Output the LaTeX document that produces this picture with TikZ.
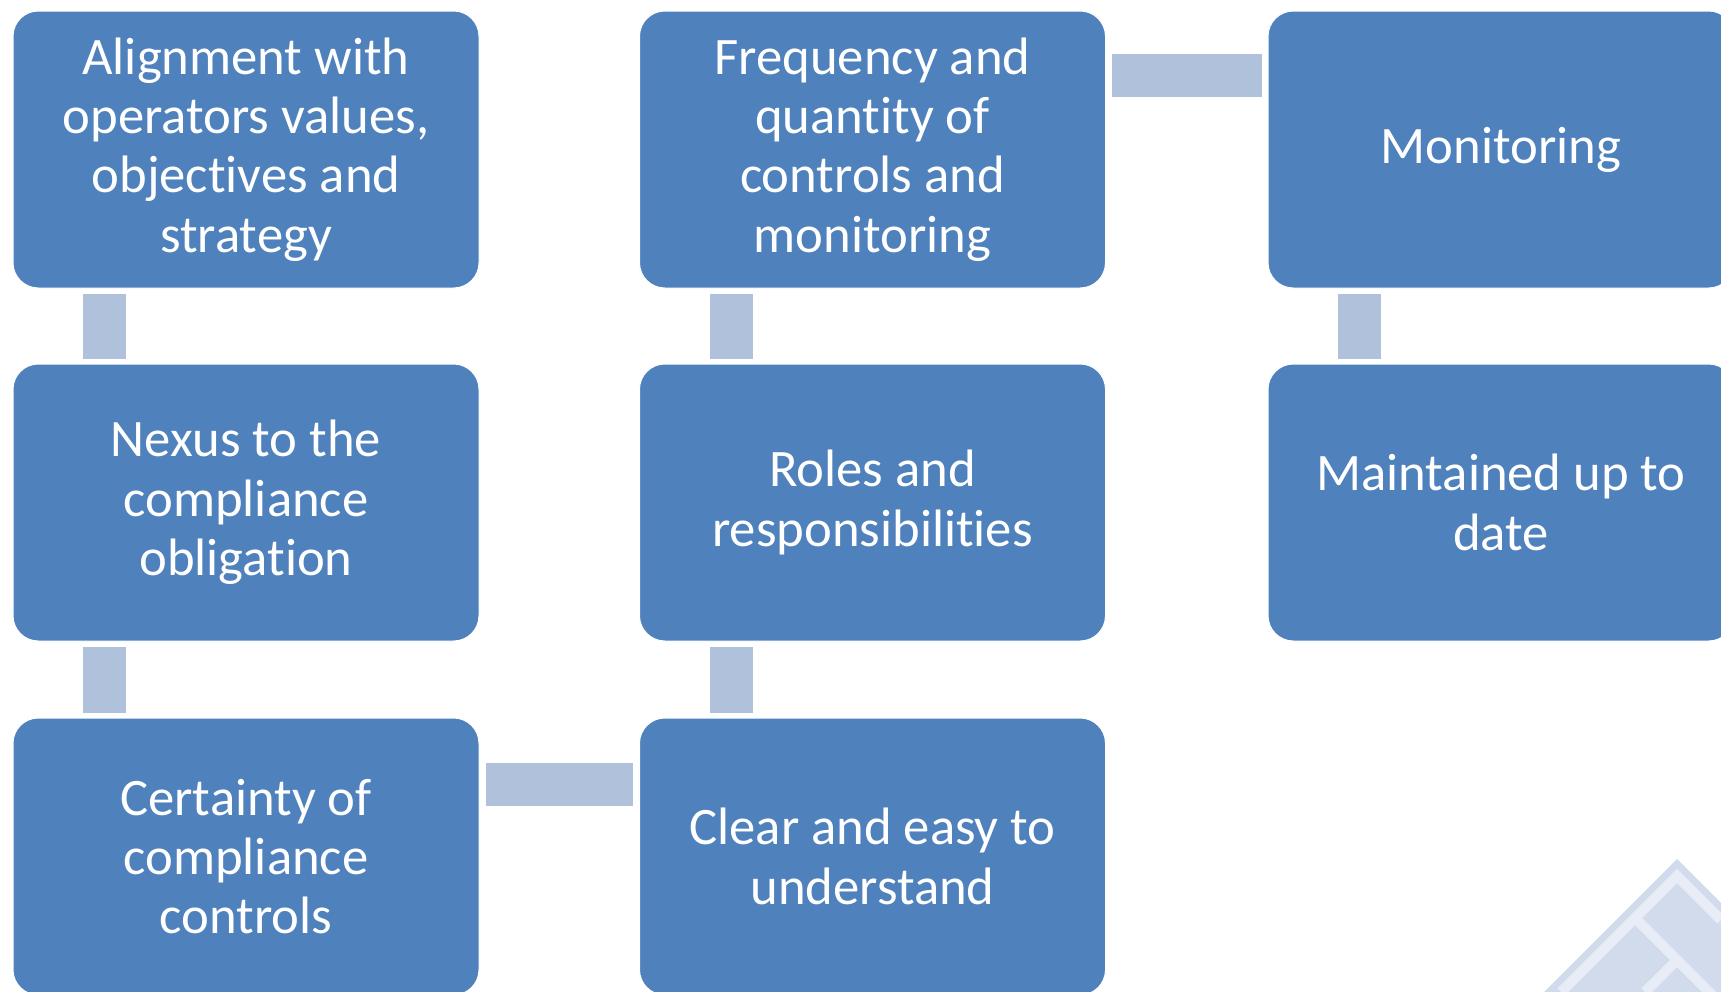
\documentclass[tikz,border=0pt]{standalone}
\usepackage{fontspec}
\setmainfont{Carlito}[Ligatures=NoCommon]
\usetikzlibrary{shapes}

\definecolor{boxblue}{RGB}{79,129,189}
\definecolor{linkblue}{RGB}{176,193,220}
\definecolor{pyrdark}{RGB}{209,219,235}
\definecolor{pyrlight}{RGB}{231,236,246}

\tikzset{
  stepbox/.style={draw=white, line width=0.75pt, fill=boxblue, rounded corners=19pt,
    minimum width=349.5pt, minimum height=207.75pt, inner sep=0pt,
    text=white, align=center, font=\fontsize{39.5}{44.5}\selectfont},
  vlink/.style={draw=linkblue, line width=32.25pt, shorten >=3.75pt, shorten <=3.75pt},
  hlink/.style={draw=linkblue, line width=32.25pt, shorten >=4.5pt, shorten <=4.5pt}
}

\begin{document}
\begin{tikzpicture}[x=0.75pt,y=0.75pt,yscale=-1,xscale=1]
\clip (0,0) rectangle (1721,992);

%Shape: Pyramid corner
\fill [pyrdark] (1677,859) -- (1544,992) -- (1721,992) -- (1721,903) -- cycle ;
\draw [pyrlight, line width=7.5pt] (1561,992) -- (1677,876) -- (1721,920) ;
\draw [pyrlight, line width=7.5pt] (1635,918) -- (1721,1004) ;
\draw [pyrlight, line width=7.5pt] (1677,960) -- (1645,992) ;

% Text Node
\node (align) at (246,149.5) [stepbox] {Alignment with\\operators values,\\objectives and\\strategy};
% Text Node
\node (nexus) at (246,502.5) [stepbox] {Nexus to the\\compliance\\obligation};
% Text Node
\node (certain) at (246,856.5) [stepbox] {Certainty of\\compliance\\controls};
% Text Node
\node (clear) at (872.5,856.5) [stepbox] {Clear and easy to\\understand};
% Text Node
\node (roles) at (872.5,502.5) [stepbox] {Roles and\\responsibilities};
% Text Node
\node (freq) at (872.5,149.5) [stepbox] {Frequency and\\quantity of\\controls and\\monitoring};
% Text Node
\node (monit) at (1501,149.5) [stepbox] {Monitoring};
% Text Node
\node (uptodate) at (1501,502.5) [stepbox] {Maintained up to\\date};

%Straight Lines
\draw [vlink] ([xshift=69pt]align.south west) -- ([xshift=69pt]nexus.north west) ;
\draw [vlink] ([xshift=69pt]nexus.south west) -- ([xshift=69pt]certain.north west) ;
\draw [hlink] ([yshift=50.25pt]certain.north east) -- ([yshift=50.25pt]clear.north west) ;
\draw [vlink] ([xshift=69pt]clear.north west) -- ([xshift=69pt]roles.south west) ;
\draw [vlink] ([xshift=69pt]roles.north west) -- ([xshift=69pt]freq.south west) ;
\draw [hlink] ([yshift=49pt]freq.north east) -- ([yshift=49pt]monit.north west) ;
\draw [vlink] ([xshift=69pt]monit.south west) -- ([xshift=69pt]uptodate.north west) ;

\end{tikzpicture}
\end{document}
